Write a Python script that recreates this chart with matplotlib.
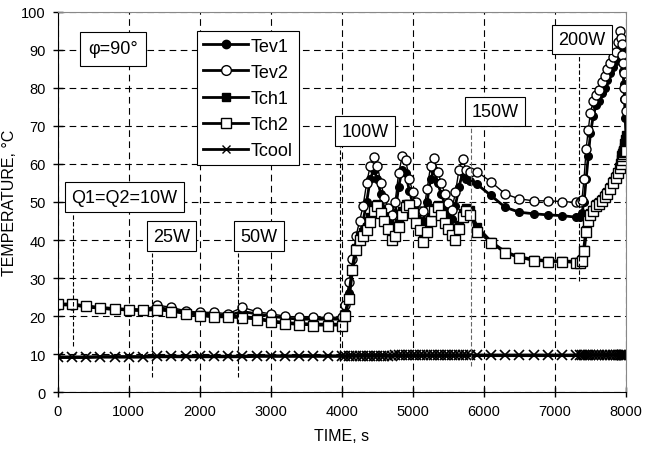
import matplotlib

matplotlib.use("Agg")
import matplotlib.pyplot as plt
from matplotlib.lines import Line2D

plt.rcParams["font.family"] = ["Liberation Sans", "DejaVu Sans"]

# sample times, s (200 s steps, then dense logging during power steps)
time_s = [
    0, 200, 400, 600, 800, 1000, 1200, 1400, 1600, 1800, 2000,
    2200, 2400, 2600, 2800, 3000, 3200, 3400, 3600, 3800, 4000,
    4050, 4100, 4150, 4200, 4250, 4300, 4350, 4400, 4450, 4500, 4550, 4600,
    4650, 4700, 4750, 4800, 4850, 4900, 4950, 5000, 5050, 5100, 5150, 5200,
    5250, 5300, 5350, 5400, 5450, 5500, 5550, 5600, 5650, 5700, 5750, 5800,
    5900, 6100, 6300, 6500, 6700, 6900, 7100, 7300,
    7350, 7380, 7410, 7440, 7470, 7500, 7540, 7580, 7620, 7660, 7700, 7740,
    7780, 7820, 7860, 7890, 7910, 7925, 7940, 7950, 7960, 7970, 7980, 7990, 8000,
]

tev1 = [
    23.0, 22.9, 22.5, 22.0, 21.8, 21.6, 21.5, 22.2, 21.8, 21.0, 20.6,
    20.4, 20.2, 21.2, 20.6, 20.0, 19.5, 19.2, 19.2, 19.2, 19.2,
    21.0, 26.0, 32.0, 37.0, 41.0, 45.0, 50.0, 56.0, 58.5, 56.0, 52.0, 48.0,
    45.5, 44.0, 47.0, 54.0, 58.5, 57.5, 53.0, 49.5, 47.0, 45.0, 45.0, 50.0,
    56.0, 58.5, 55.0, 52.0, 49.5, 47.0, 45.5, 49.0, 54.0, 57.5, 56.0, 55.5,
    54.7, 51.7, 48.6, 47.3, 46.9, 46.6, 46.4, 46.0,
    46.0, 47.0, 50.0, 56.0, 62.0, 68.0, 72.5, 75.5, 76.5, 78.5, 80.0, 82.0,
    84.0, 85.5, 87.0, 89.0, 91.0, 92.0, 90.0, 87.0, 84.5, 81.0, 77.0, 72.0, 67.5,
]

tev2 = [
    23.0, 23.0, 22.6, 22.1, 21.9, 21.7, 21.6, 22.9, 22.3, 21.4, 21.0,
    21.0, 20.6, 22.3, 21.2, 20.6, 20.0, 19.7, 19.7, 19.7, 19.7,
    23.0, 29.0, 35.0, 41.0, 45.0, 49.0, 55.0, 59.5, 61.8, 59.5, 55.0, 51.0,
    48.5, 46.5, 50.0, 57.5, 62.0, 61.0, 56.0, 52.5, 50.0, 47.5, 47.5, 53.3,
    59.5, 61.5, 58.0, 55.0, 52.2, 49.8, 48.0, 52.5, 58.5, 61.2, 58.5, 57.8,
    58.0, 55.3, 52.1, 50.8, 50.3, 50.3, 50.1, 49.9,
    50.0, 50.5, 56.0, 64.0, 69.0, 73.5, 76.5, 78.0, 79.5, 81.5, 83.0, 85.0,
    86.5, 88.0, 89.5, 92.0, 95.0, 93.0, 91.5, 88.5, 86.5, 84.0, 80.0, 77.0, 74.0,
]

tch1 = [
    23.1, 23.1, 22.6, 22.2, 21.9, 21.7, 21.6, 21.8, 21.4, 20.8, 20.3,
    19.9, 19.9, 19.8, 19.4, 18.7, 18.2, 18.0, 17.8, 17.8, 17.8,
    20.5, 25.0, 32.5, 38.0, 41.0, 42.0, 43.5, 46.0, 48.5, 49.5, 48.0, 46.0,
    44.0, 41.5, 42.0, 44.5, 47.5, 49.5, 49.5, 47.5, 45.5, 43.5, 40.5, 43.0,
    46.0, 48.5, 49.2, 47.5, 45.5, 43.5, 42.0, 41.0, 44.0, 47.0, 48.5, 48.0,
    43.5, 39.5, 36.8, 35.5, 34.8, 34.5, 34.4, 34.3,
    34.3, 35.0, 37.5, 42.5, 45.5, 47.0, 48.0, 49.5, 50.0, 50.8, 51.7, 52.5,
    54.0, 55.5, 56.8, 58.0, 59.5, 60.5, 61.5, 62.5, 63.5, 64.5, 65.5, 66.5, 67.5,
]

tch2 = [
    23.2, 23.2, 22.6, 22.1, 21.9, 21.7, 21.6, 21.7, 21.2, 20.6, 20.1,
    19.7, 19.7, 19.4, 19.1, 18.4, 17.9, 17.7, 17.5, 17.5, 17.5,
    20.0, 24.5, 32.0, 37.5, 40.0, 41.0, 42.5, 44.7, 47.7, 49.0, 47.2, 45.0,
    43.0, 40.0, 41.0, 43.5, 46.5, 48.8, 49.2, 47.0, 44.5, 42.5, 39.4, 42.0,
    45.0, 47.5, 48.6, 46.5, 44.5, 42.8, 41.3, 40.0, 43.0, 46.0, 47.5, 46.5,
    42.2, 39.2, 36.6, 35.3, 34.6, 34.3, 34.2, 34.0,
    34.0, 34.5, 37.0, 42.0, 45.0, 46.5, 47.5, 49.0, 49.5, 50.3, 51.2, 52.0,
    53.5, 55.0, 56.2, 57.5, 59.0, 60.0, 61.0, 62.0, 62.5, 63.0, 63.5, 63.5, 63.5,
]

tcool = [
    9.2, 9.2, 9.2, 9.3, 9.3, 9.3, 9.3, 9.4, 9.4, 9.4, 9.4,
    9.4, 9.4, 9.4, 9.5, 9.5, 9.5, 9.5, 9.5, 9.5, 9.5,
    9.5, 9.5, 9.6, 9.6, 9.6, 9.6, 9.6, 9.6, 9.6, 9.6, 9.6, 9.6,
    9.6, 9.6, 9.7, 9.7, 9.7, 9.7, 9.7, 9.7, 9.7, 9.7, 9.7, 9.7,
    9.7, 9.7, 9.7, 9.7, 9.7, 9.7, 9.7, 9.7, 9.7, 9.7, 9.7, 9.7,
    9.7, 9.7, 9.7, 9.7, 9.7, 9.7, 9.7, 9.7,
    9.8, 9.8, 9.8, 9.8, 9.8, 9.8, 9.8, 9.8, 9.8, 9.8, 9.8, 9.8,
    9.8, 9.8, 9.8, 9.8, 9.8, 9.8, 9.8, 9.8, 9.8, 9.8, 9.8, 9.8, 9.8,
]

# power-step annotations: label, box centre (t, T), marker line t, line top/bottom T
step_labels = ["Q1=Q2=10W", "25W", "50W", "100W", "150W", "200W"]
box_t = [940, 1600, 2830, 4330, 6160, 7380]
box_T = [51.3, 41.0, 41.0, 68.6, 73.8, 92.7]
line_t = [210, 1325, 2545, 3980, 5820, 7345]
line_top = [47.0, 36.5, 36.5, 64.5, 70.0, 88.5]
line_bot = [12.2, 4.0, 4.0, 8.3, 7.0, 29.3]

fig = plt.figure(figsize=(6.52, 4.52), dpi=100)
ax = fig.add_axes([0.0885, 0.130, 0.8715, 0.842])

ax.set_xlim(0, 8000)
ax.set_ylim(0, 100)
ax.set_xticks(range(0, 8001, 1000))
ax.set_yticks(range(0, 101, 10))
ax.grid(True, color="black", linestyle=(0, (6, 4)), linewidth=0.8)
ax.set_axisbelow(True)
ax.tick_params(direction="inout", length=7, width=1, labelsize=10.5, pad=5)
for side in ("top", "right"):
    ax.spines[side].set_color("#888888")

ax.plot(time_s, tev1, "-", color="black", lw=2, marker="o", ms=5.5,
        mfc="black", mec="black", mew=1)
ax.plot(time_s, tev2, "-", color="black", lw=1, marker="o", ms=6.5,
        mfc="white", mec="black", mew=1)
ax.plot(time_s, tch1, "-", color="black", lw=2.5, marker="s", ms=5.5,
        mfc="black", mec="black", mew=1)
ax.plot(time_s, tch2, "-", color="black", lw=1, marker="s", ms=6.5,
        mfc="white", mec="black", mew=1)
ax.plot(time_s, tcool, "-", color="black", lw=2.5, marker="x", ms=6.5, mew=1.2)

box_style = dict(boxstyle="square,pad=0.35", fc="white", ec="black", lw=0.8)
for i, label in enumerate(step_labels):
    col = "#666666" if label == "150W" else "black"
    ax.plot([line_t[i], line_t[i]], [line_bot[i], line_top[i]], color=col,
            lw=0.8, linestyle=(0, (4, 2)))
    ax.text(box_t[i], box_T[i], label, ha="center", va="center",
            fontsize=13, bbox=box_style, zorder=5)

ax.text(780, 90.2, "\u03c6=90\u00b0", ha="center", va="center", fontsize=13,
        bbox=dict(boxstyle="square,pad=0.45", fc="white", ec="black", lw=0.8),
        zorder=5)

handles = [
    Line2D([], [], color="black", lw=2, marker="o", ms=6, mfc="black", mec="black"),
    Line2D([], [], color="black", lw=2, marker="o", ms=7, mfc="white", mec="black"),
    Line2D([], [], color="black", lw=2, marker="s", ms=6, mfc="black", mec="black"),
    Line2D([], [], color="black", lw=2, marker="s", ms=7, mfc="white", mec="black"),
    Line2D([], [], color="black", lw=2, marker="x", ms=6, mew=1),
]
leg = ax.legend(handles, ["Tev1", "Tev2", "Tch1", "Tch2", "Tcool"],
                loc="upper left", bbox_to_anchor=(0.245, 0.948), fontsize=13,
                frameon=True, fancybox=False, edgecolor="black",
                framealpha=1, handlelength=2.5, handletextpad=0.15,
                borderpad=0.35, labelspacing=0.5, borderaxespad=0)
leg.get_frame().set_linewidth(0.8)
leg.set_zorder(6)

ax.set_xlabel("TIME, s", fontsize=11.5, labelpad=7)
ax.set_ylabel("TEMPERATURE, \u00b0C", fontsize=11.5, labelpad=3)

fig.savefig("out.png", dpi=100)
plt.close(fig)
